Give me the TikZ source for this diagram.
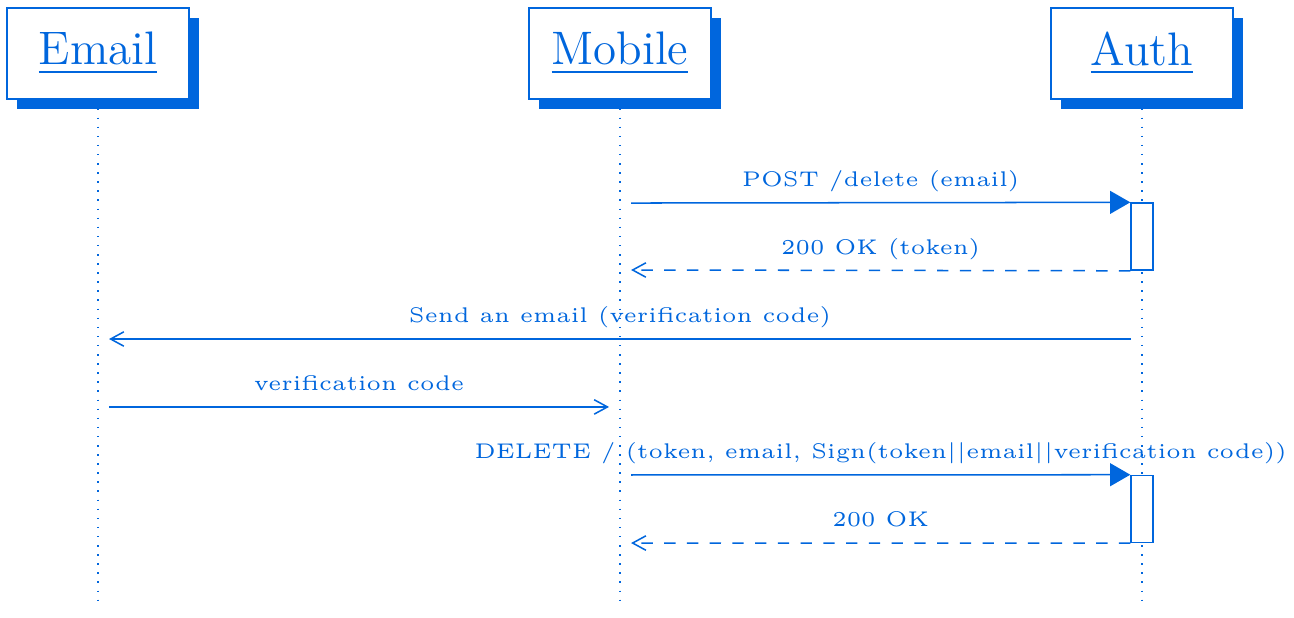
\documentclass[tikz,border=0pt]{standalone}
\usepackage{amsmath}
\usepackage{fontspec}
\usepackage{tikz}
\usetikzlibrary{arrows.meta}
\usetikzlibrary{shadows}

\newfontfamily\msgfont{lmroman5-regular.otf}
\definecolor{umlblue}{RGB}{0,102,221}

\tikzset{
	actor/.style={draw, fill=white, minimum width=1.688cm, minimum height=0.844cm, inner sep=0pt,
		font=\fontsize{12.4}{15}\selectfont,
		drop shadow={shadow xshift=0.093cm, shadow yshift=-0.093cm, fill=umlblue, opacity=1}},
	activation/.style={draw, fill=white, minimum width=0.204cm, minimum height=0.621cm, inner sep=0pt},
	lifeline/.style={dotted},
	call/.style={-{Triangle[length=5.3pt,width=6pt]}},
	callopen/.style={-{Straight Barb[length=3.5pt,width=3.8pt]}},
	reply/.style={dashed, -{Straight Barb[length=3.5pt,width=3.8pt]}},
	msglabel/.style={midway, anchor=base, yshift=4.3pt, font=\fontsize{5.6}{6.7}\msgfont, inner sep=0pt}
}

\begin{document}
\begin{tikzpicture}[umlblue]
	\useasboundingbox (0, 0) rectangle (12, -5.731);

	% lifelines
	\coordinate (email-end) at (0.909, -5.629);
	\coordinate (mobile-end) at (5.750, -5.629);
	\coordinate (auth-end) at (10.591, -5.629);
	\draw[lifeline] (0.909, -0.5) -- (email-end);
	\draw[lifeline] (5.750, -0.5) -- (mobile-end);
	\draw[lifeline] (10.591, -0.5) -- (auth-end);

	\node[actor] (email) at (0.909, -0.496) {\underline{Email}};
	\node[actor] (mobile) at (5.750, -0.496) {\underline{Mobile}};
	\node[actor] (auth) at (10.591, -0.496) {\underline{Auth}};

	\node[activation] (act1) at (10.591, -2.194) {};
	\node[activation] (act2) at (10.591, -4.720) {};

	\coordinate (mob1) at (5.852, -1.883);
	\coordinate (mob2) at (5.852, -2.504);
	\coordinate (send) at (10.489, -3.144);
	\coordinate (eml1) at (1.011, -3.144);
	\coordinate (eml2) at (1.011, -3.774);
	\coordinate (mob3) at (5.648, -3.774);
	\coordinate (mob4) at (5.852, -4.405);
	\coordinate (mob5) at (5.852, -5.036);

	\draw[call] (mob1) -- (act1.north west) node[msglabel] {POST /delete (email)};
	\draw[reply] (act1.south west) -- (mob2) node[msglabel] {200 OK (token)};
	\draw[callopen] (send) -- (eml1) node[msglabel] {Send an email (verification code)};
	\draw[callopen] (eml2) -- (mob3) node[msglabel] {verification code};
	\draw[call] (mob4) -- (act2.north west) node[msglabel] {DELETE / (token, email, Sign(token||email||verification code))};
	\draw[reply] (act2.south west) -- (mob5) node[msglabel] {200 OK};
\end{tikzpicture}
\end{document}
